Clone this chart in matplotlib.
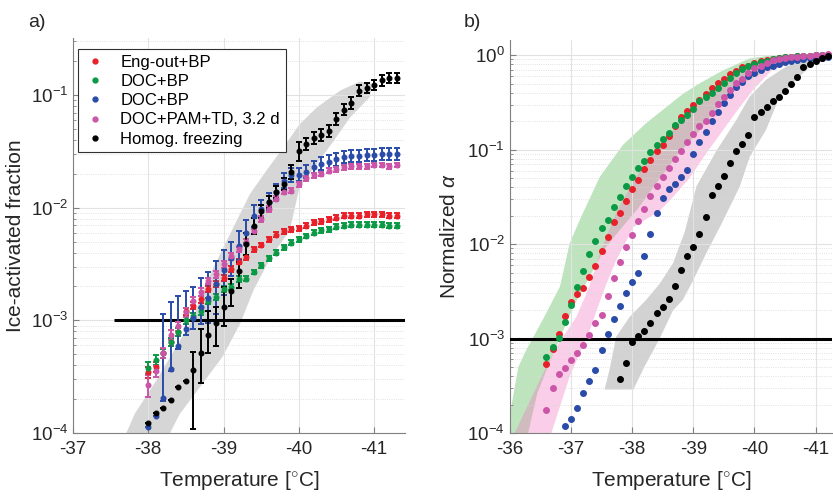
import matplotlib
matplotlib.use('Agg')
import numpy as np
import matplotlib.pyplot as plt
from matplotlib.lines import Line2D
from matplotlib.ticker import LogLocator, NullFormatter

plt.rcParams['font.family'] = ['Liberation Sans', 'DejaVu Sans']
plt.rcParams['axes.unicode_minus'] = False
plt.rcParams['mathtext.fontset'] = 'custom'
plt.rcParams['mathtext.rm'] = 'Liberation Sans'
plt.rcParams['mathtext.it'] = 'Liberation Sans:italic'

# ---------------- panel a) data (log10 of ice-activated fraction) ----------------
T_a = [-38.0, -38.1, -38.2, -38.3, -38.4, -38.5, -38.6, -38.7, -38.8, -38.9,
       -39.0, -39.1, -39.2, -39.3, -39.4, -39.5, -39.6, -39.7, -39.8, -39.9,
       -40.0, -40.1, -40.2, -40.3, -40.4, -40.5, -40.6, -40.7, -40.8, -40.9,
       -41.0, -41.1, -41.2, -41.3]

red_a = [-3.46, -3.41, -3.29, -3.19, -3.10, -2.92, -2.87, -2.81, -2.72, -2.68,
         -2.62, -2.54, -2.48, -2.44, -2.37, -2.33, -2.28, -2.24, -2.21, -2.19,
         -2.18, -2.16, -2.13, -2.12, -2.10, -2.09, -2.07, -2.07, -2.07, -2.06,
         -2.06, -2.06, -2.07, -2.07]
green_a = [-3.42, -3.35, -3.29, -3.19, -3.10, -3.00, -2.96, -2.92, -2.83, -2.79,
           -2.72, -2.70, -2.63, -2.63, -2.57, -2.51, -2.45, -2.40, -2.35, -2.31,
           -2.28, -2.25, -2.22, -2.20, -2.19, -2.17, -2.16, -2.15, -2.15, -2.15,
           -2.15, -2.15, -2.16, -2.16]
blue_a = [-3.95, -3.85, -3.69, -3.43, -3.23, -3.08, -2.98, -2.88, -2.80, -2.68,
          -2.55, -2.45, -2.34, -2.22, -2.07, -2.01, -1.95, -1.86, -1.76, -1.71,
          -1.71, -1.68, -1.64, -1.61, -1.59, -1.57, -1.55, -1.54, -1.54, -1.53,
          -1.53, -1.52, -1.52, -1.52]
pink_a = [-3.57, -3.45, -3.29, -3.13, -3.05, -2.93, -2.83, -2.75, -2.65, -2.59,
          -2.50, -2.43, -2.37, -2.30, -2.21, -2.10, -2.01, -1.92, -1.86, -1.85,
          -1.79, -1.74, -1.71, -1.70, -1.67, -1.66, -1.64, -1.63, -1.63, -1.63,
          -1.62, -1.62, -1.63, -1.62]
black_a = [-3.91, -3.82, -3.78, -3.71, -3.59, -3.54, -3.44, -3.29, -3.13, -3.02,
           -2.88, -2.74, -2.56, -2.32, -2.16, -2.03, -1.95, -1.86, -1.79, -1.68,
           -1.50, -1.43, -1.38, -1.35, -1.32, -1.21, -1.13, -1.07, -0.96, -0.94,
           -0.91, -0.87, -0.85, -0.85]

# relative error bars (fraction of value), lower / upper
red_err = [0.12, 0.10, 0.09, 0.08, 0.08, 0.07, 0.07, 0.07, 0.06, 0.06,
           0.06, 0.06, 0.05, 0.05, 0.05, 0.05, 0.05, 0.05, 0.05, 0.05,
           0.05, 0.05, 0.05, 0.05, 0.05, 0.05, 0.05, 0.05, 0.05, 0.05,
           0.05, 0.05, 0.05, 0.05]
green_err = [0.12, 0.10, 0.09, 0.08, 0.08, 0.07, 0.07, 0.07, 0.06, 0.06,
             0.06, 0.06, 0.06, 0.05, 0.05, 0.05, 0.05, 0.05, 0.05, 0.05,
             0.05, 0.05, 0.05, 0.05, 0.05, 0.05, 0.05, 0.05, 0.05, 0.05,
             0.05, 0.05, 0.05, 0.05]
pink_err = [0.22, 0.12, 0.10, 0.10, 0.09, 0.09, 0.08, 0.08, 0.07, 0.07,
            0.07, 0.07, 0.06, 0.06, 0.06, 0.06, 0.06, 0.05, 0.05, 0.05,
            0.05, 0.05, 0.05, 0.05, 0.05, 0.05, 0.05, 0.05, 0.05, 0.05,
            0.05, 0.05, 0.05, 0.05]
blue_lo = [0.0, 0.0, 0.05, 0.05, 0.05, 0.10, 0.20, 0.30, 0.40, 0.45,
           0.40, 0.30, 0.25, 0.20, 0.20, 0.17, 0.15, 0.14, 0.13, 0.13,
           0.12, 0.12, 0.12, 0.12, 0.12, 0.12, 0.12, 0.12, 0.12, 0.12,
           0.12, 0.12, 0.12, 0.12]
blue_hi = [0.0, 0.0, 4.6, 2.9, 1.8, 1.2, 0.9, 0.8, 0.7, 0.6,
           0.5, 0.4, 0.35, 0.3, 0.25, 0.2, 0.2, 0.18, 0.16, 0.15,
           0.15, 0.15, 0.14, 0.14, 0.14, 0.13, 0.13, 0.13, 0.13, 0.13,
           0.13, 0.13, 0.13, 0.13]
black_lo = [0.0, 0.0, 0.0, 0.0, 0.0, 0.0, 0.70, 0.46, 0.31, 0.38,
            0.32, 0.26, 0.30, 0.20, 0.15, 0.13, 0.12, 0.12, 0.12, 0.14,
            0.17, 0.12, 0.12, 0.12, 0.12, 0.12, 0.11, 0.11, 0.11, 0.10,
            0.10, 0.10, 0.10, 0.10]
black_hi = [0.0, 0.0, 0.0, 0.0, 0.0, 0.0, 0.45, 0.62, 0.62, 0.38,
            0.50, 0.29, 0.20, 0.25, 0.17, 0.14, 0.13, 0.13, 0.13, 0.15,
            0.20, 0.13, 0.13, 0.13, 0.13, 0.13, 0.12, 0.12, 0.12, 0.11,
            0.11, 0.11, 0.11, 0.11]

# gray band around homogeneous freezing (panel a), warm edge then cold edge
band_a_warm_T = [-37.60, -37.71, -37.82, -38.11, -38.58, -38.78, -39.00, -39.35,
                 -39.57, -39.79, -40.01, -40.24, -40.55, -40.81, -40.98]
band_a_warm_L = [-4.2, -4.0, -3.83, -3.53, -3.00, -2.65, -2.35, -1.88,
                 -1.67, -1.47, -1.26, -1.11, -0.96, -0.88, -0.90]
band_a_cold_T = [-40.94, -40.68, -40.46, -40.24, -40.01, -39.88, -39.62, -39.40,
                 -39.22, -38.99, -38.69, -38.42, -38.29, -38.22]
band_a_cold_L = [-1.02, -1.20, -1.41, -1.61, -1.82, -2.20, -2.45, -2.73,
                 -3.03, -3.32, -3.59, -3.83, -4.0, -4.2]

thresh_level = 1e-3
thresh_T_start_a = -37.54

# ---------------- panel b) data (log10 of normalized alpha) ----------------
T_b_rgp = [-36.6, -36.7, -36.8, -36.9, -37.0, -37.1, -37.2, -37.3, -37.4, -37.5,
           -37.6, -37.7, -37.8, -37.9, -38.0, -38.1, -38.2, -38.3, -38.4, -38.5,
           -38.6, -38.7, -38.8, -38.9, -39.0, -39.1, -39.2, -39.3, -39.4, -39.5,
           -39.6, -39.7, -39.8, -39.9, -40.0, -40.1, -40.2, -40.3, -40.4, -40.5,
           -40.6, -40.7, -40.8, -40.9, -41.0, -41.1, -41.2]
green_b = [-3.20, -3.09, -2.99, -2.83, -2.65, -2.45, -2.29, -2.11, -1.97, -1.83,
           -1.74, -1.61, -1.50, -1.39, -1.29, -1.20, -1.12, -1.03, -0.95, -0.89,
           -0.82, -0.74, -0.69, -0.63, -0.57, -0.49, -0.44, -0.40, -0.35, -0.30,
           -0.24, -0.19, -0.15, -0.12, -0.09, -0.075, -0.06, -0.046, -0.032, -0.025,
           -0.018, -0.011, -0.008, -0.005, -0.003, -0.001, 0.0]
red_b = [-3.27, -3.11, -2.95, -2.76, -2.61, -2.53, -2.46, -2.35, -2.23, -2.07,
         -1.92, -1.77, -1.67, -1.54, -1.42, -1.32, -1.21, -1.11, -1.02, -0.95,
         -0.86, -0.75, -0.66, -0.59, -0.53, -0.47, -0.41, -0.35, -0.29, -0.25,
         -0.20, -0.17, -0.13, -0.11, -0.08, -0.065, -0.05, -0.04, -0.03, -0.022,
         -0.016, -0.011, -0.007, -0.004, -0.002, -0.001, 0.0]
pink_b = [-3.76, -3.52, -3.38, -3.31, -3.23, -3.15, -3.07, -2.96, -2.84, -2.75,
          -2.55, -2.36, -2.19, -2.03, -1.90, -1.76, -1.63, -1.49, -1.39, -1.29,
          -1.20, -1.10, -1.01, -0.92, -0.83, -0.75, -0.70, -0.61, -0.52, -0.44,
          -0.37, -0.30, -0.25, -0.19, -0.14, -0.11, -0.08, -0.05, -0.04, -0.03,
          -0.02, -0.015, -0.01, -0.005, 0.0, 0.005, 0.01]
T_b_blue = [-36.9, -37.0, -37.1, -37.2, -37.3, -37.4, -37.5, -37.6, -37.7, -37.8,
            -37.9, -38.0, -38.1, -38.2, -38.3, -38.4, -38.5, -38.6, -38.7, -38.8,
            -38.9, -39.0, -39.1, -39.2, -39.3, -39.4, -39.5, -39.6, -39.7, -39.8,
            -39.9, -40.0, -40.1, -40.2, -40.3, -40.4, -40.5, -40.6, -40.7, -40.8,
            -40.9, -41.0, -41.1, -41.2]
blue_b = [-3.93, -3.85, -3.74, -3.58, -3.45, -3.33, -3.12, -2.95, -2.79, -2.66,
          -2.52, -2.40, -2.31, -2.13, -1.89, -1.67, -1.51, -1.42, -1.36, -1.29,
          -1.22, -1.05, -0.92, -0.81, -0.70, -0.60, -0.51, -0.42, -0.34, -0.28,
          -0.22, -0.19, -0.16, -0.13, -0.11, -0.09, -0.075, -0.06, -0.05, -0.04,
          -0.035, -0.03, -0.027, -0.025]
T_b_black = [-37.8, -37.9, -38.0, -38.1, -38.2, -38.3, -38.4, -38.5, -38.6, -38.7,
             -38.8, -38.9, -39.0, -39.1, -39.2, -39.3, -39.4, -39.5, -39.6, -39.7,
             -39.8, -39.9, -40.0, -40.1, -40.2, -40.3, -40.4, -40.5, -40.6, -40.7,
             -40.8, -40.9, -41.0, -41.1, -41.2]
black_b = [-3.43, -3.26, -3.04, -2.97, -2.92, -2.84, -2.73, -2.67, -2.58, -2.44,
           -2.27, -2.13, -2.03, -1.89, -1.71, -1.48, -1.38, -1.28, -1.14, -1.01,
           -0.94, -0.85, -0.66, -0.60, -0.55, -0.49, -0.44, -0.38, -0.31, -0.23,
           -0.13, -0.09, -0.06, -0.035, -0.01]

# bands of panel b), warm edge (bottom->top) then cold edge (top->bottom)
gband_warm_T = [-35.90, -36.03, -36.14, -36.27, -36.54, -36.82, -36.98, -37.14, -37.47,
                -37.85, -38.23, -38.83, -39.10, -39.49, -39.92, -40.30, -41.40]
gband_warm_L = [-4.1, -3.70, -3.30, -3.12, -2.80, -2.45, -1.99, -1.75, -1.29,
                -0.95, -0.72, -0.41, -0.30, -0.16, -0.035, 0.0, 0.02]
gband_cold_T = [-41.40, -40.85, -40.30, -39.76, -39.40, -39.10, -38.75, -38.40,
                -38.10, -37.80, -37.55, -37.30, -37.05, -36.85, -36.62, -36.45,
                -36.30, -36.25]
gband_cold_L = [-0.02, -0.04, -0.12, -0.32, -0.55, -0.80, -1.05, -1.35,
                -1.62, -1.85, -2.05, -2.35, -2.65, -2.95, -3.30, -3.58,
                -4.0, -4.1]

pband_warm_T = [-36.00, -36.08, -36.49, -36.76, -37.09, -37.30, -37.50, -37.75,
                -38.05, -38.40, -38.80, -39.30, -39.80, -40.30, -41.40]
pband_warm_L = [-4.1, -4.0, -3.44, -3.09, -2.77, -2.45, -2.05, -1.65,
                -1.30, -1.00, -0.70, -0.40, -0.17, -0.05, 0.01]
pband_cold_T = [-41.40, -40.85, -40.30, -40.00, -39.76, -39.49, -39.21, -38.94,
                -38.67, -38.45, -38.02, -37.91, -37.74, -37.58, -37.42, -37.31,
                -37.14, -36.98, -36.82, -36.68, -36.62]
pband_cold_L = [-0.02, -0.04, -0.15, -0.35, -0.55, -0.79, -1.04, -1.30,
                -1.50, -1.65, -1.82, -1.96, -2.17, -2.42, -2.70, -2.91,
                -3.16, -3.40, -3.72, -4.0, -4.1]

kband_warm_T = [-37.55, -37.63, -37.74, -37.96, -38.23, -38.45, -38.67, -38.86,
                -39.05, -39.38, -39.70, -39.92, -40.19, -40.52, -40.85, -41.40]
kband_warm_L = [-3.54, -3.33, -2.98, -2.77, -2.59, -2.42, -2.20, -1.87,
                -1.39, -1.01, -0.69, -0.44, -0.26, -0.12, -0.05, -0.01]
kband_cold_T = [-41.40, -40.96, -40.68, -40.41, -40.19, -39.92, -39.76, -39.45,
                -39.21, -39.00, -38.83, -38.67, -38.45, -38.20, -38.02]
kband_cold_L = [-0.02, -0.09, -0.26, -0.44, -0.79, -1.08, -1.39, -1.80,
                -2.10, -2.38, -2.59, -2.70, -3.00, -3.30, -3.54]

labels = ['Eng-out+BP', 'DOC+BP', 'DOC+BP', 'DOC+PAM+TD, 3.2 d', 'Homog. freezing']
c_red = '#e8202a'
c_green = '#0a9a46'
c_blue = '#2a4ca8'
c_pink = '#cc55a8'
c_black = 'black'


def style_axes(ax, xticks):
    ax.set_yscale('log')
    for s in ['top', 'right']:
        ax.spines[s].set_visible(False)
    for s in ['left', 'bottom']:
        ax.spines[s].set_color('#808080')
    ax.set_xticks(xticks)
    ax.set_xticklabels([str(t) for t in xticks])
    ax.yaxis.set_minor_locator(LogLocator(base=10, subs=np.arange(2, 10), numticks=20))
    ax.yaxis.set_minor_formatter(NullFormatter())
    ax.tick_params(which='both', direction='in', colors='#808080', labelcolor='#262626',
                   labelsize=13.5)
    ax.tick_params(which='major', length=4)
    ax.tick_params(which='minor', length=2.5)
    ax.tick_params(axis='x', pad=6)
    ax.grid(True, which='major', color='#e2e2e2', lw=0.8, ls='-')
    ax.grid(True, which='minor', axis='y', color='#d8d8d8', lw=0.6, ls=':')
    ax.set_xlabel('Temperature [$^{\\circ}$C]', fontsize=15, color='#262626', labelpad=8)


def lin(v):
    return 10 ** np.array(v)


fig = plt.figure(figsize=(8.33, 4.96), dpi=100)
ax1 = fig.add_axes([0.0876, 0.127, 0.3985, 0.796])
ax2 = fig.add_axes([0.612, 0.127, 0.387, 0.792])

# ---------- panel a ----------
style_axes(ax1, [-37, -38, -39, -40, -41])
ax1.fill(np.r_[band_a_warm_T, band_a_cold_T], lin(np.r_[band_a_warm_L, band_a_cold_L]),
         color='#d6d6d6', lw=0, zorder=1)

ax1.hlines(thresh_level, thresh_T_start_a, -41.41, color='black', lw=2.2, zorder=3)

series_a = [(red_a, red_err, red_err, c_red),
            (green_a, green_err, green_err, c_green),
            (blue_a, blue_lo, blue_hi, c_blue),
            (pink_a, pink_err, pink_err, c_pink),
            (black_a, black_lo, black_hi, c_black)]
for vals, lo, hi, col in series_a:
    v = lin(vals)
    ax1.errorbar(T_a, v, yerr=[v * np.array(lo), v * np.array(hi)], fmt='o', ms=3.3,
                 color=col, ecolor=col, elinewidth=1.4, capsize=2.4, capthick=1.4,
                 zorder=4)

ax1.set_xlim(-37, -41.41)
ax1.set_ylim(1e-4, 0.32)
ax1.set_ylabel('Ice-activated fraction', fontsize=15, color='#262626', labelpad=4)

handles = [Line2D([], [], ls='none', marker='o', ms=3.5, color=c)
           for c in [c_red, c_green, c_blue, c_pink, c_black]]
leg = ax1.legend(handles, labels, loc='upper left', bbox_to_anchor=(0.0, 0.985),
                 fontsize=12, frameon=True, fancybox=False, framealpha=1,
                 edgecolor='#303030', borderpad=0.35, handlelength=1.4,
                 handletextpad=0.8, labelspacing=0.25, borderaxespad=0.3)
leg.get_frame().set_linewidth(0.8)

# ---------- panel b ----------
style_axes(ax2, [-36, -37, -38, -39, -40, -41])
ax2.fill(np.r_[gband_warm_T, gband_cold_T], lin(np.r_[gband_warm_L, gband_cold_L]),
         color=(0.33, 0.72, 0.33), alpha=0.38, lw=0, zorder=1)
ax2.fill(np.r_[pband_warm_T, pband_cold_T], lin(np.r_[pband_warm_L, pband_cold_L]),
         color=(0.95, 0.45, 0.75), alpha=0.35, lw=0, zorder=1)
ax2.fill(np.r_[kband_warm_T, kband_cold_T], lin(np.r_[kband_warm_L, kband_cold_L]),
         color=(0.5, 0.5, 0.5), alpha=0.35, lw=0, zorder=1)

ax2.axhline(thresh_level, color='black', lw=2.2, zorder=3)

ax2.plot(T_b_rgp, lin(red_b), 'o', ms=4, color=c_red, zorder=4)
ax2.plot(T_b_rgp, lin(green_b), 'o', ms=4, color=c_green, zorder=4)
ax2.plot(T_b_blue, lin(blue_b), 'o', ms=4, color=c_blue, zorder=4)
ax2.plot(T_b_rgp, lin(pink_b), 'o', ms=4, color=c_pink, zorder=4)
ax2.plot(T_b_black, lin(black_b), 'o', ms=4, color=c_black, zorder=4)

ax2.set_xlim(-36, -41.27)
ax2.set_ylim(1e-4, 1.44)
ax2.set_ylabel('Normalized $\\alpha$', fontsize=15, color='#262626', labelpad=6)

fig.text(0.034, 0.945, 'a)', fontsize=14, color='#262626')
fig.text(0.557, 0.945, 'b)', fontsize=14, color='#262626')

fig.savefig('out.png', dpi=100)
